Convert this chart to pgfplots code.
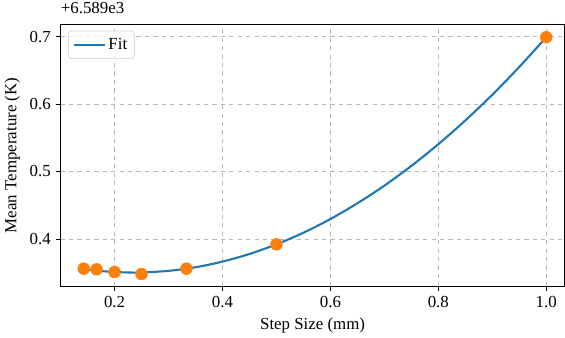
\documentclass[border=0pt]{standalone}
\usepackage{pgfplots}
\pgfplotsset{compat=1.18}
\usepackage{fontspec}
\setmainfont{Liberation Serif}
\definecolor{tabblue}{HTML}{1F77B4}
\definecolor{taborange}{HTML}{FF7F0E}
\begin{document}
\begin{tikzpicture}
\begin{axis}[
  scale only axis,
  width=358.6pt, height=186.5pt,
  xmin=0.1, xmax=1.034, ymin=0.3295, ymax=0.718,
  xtick={0.2,0.4,0.6,0.8,1.0},
  ytick={0.4,0.5,0.6,0.7},
  xticklabels={0.2,0.4,0.6,0.8,1.0},
  yticklabels={0.4,0.5,0.6,0.7},
  tick align=outside,
  tick pos=left,
  major tick length=3.5pt,
  every tick/.style={black, line width=0.6pt},
  axis line style={line width=0.6pt},
  grid=major,
  major grid style={dashed, gray!55, line width=0.4pt},
  xlabel={Step Size (mm)},
  ylabel={Mean Temperature (K)},
  xlabel style={yshift=0pt},
  ylabel style={yshift=0pt},
  tick label style={font=\fontsize{12}{14}\selectfont},
  label style={font=\fontsize{12}{14}\selectfont},
  legend style={font=\fontsize{12}{14}\selectfont, draw=gray!40, rounded corners=2pt, fill=white, fill opacity=0.8, text opacity=1, inner sep=3pt, at={(0.015,0.975)}, anchor=north west},
  legend cell align=left,
  legend image code/.code={\draw[#1] (0pt,0pt) -- (22pt,0pt);},
  clip=false,
]
\addplot[tabblue, line width=1.5pt, smooth] coordinates {
(0.1429,0.3553) (0.15,0.3546) (0.175,0.3524) (0.2,0.3510) (0.225,0.3503) (0.25,0.3503)
(0.3,0.3527) (0.35,0.3580) (0.4,0.3664) (0.45,0.3777) (0.5,0.3920) (0.55,0.4092)
(0.6,0.4295) (0.65,0.4528) (0.7,0.4790) (0.75,0.5082) (0.8,0.5404) (0.85,0.5756)
(0.9,0.6137) (0.95,0.6549) (1.0,0.6990)
};
\addlegendentry{Fit}
\addplot[only marks, mark=*, mark size=4.2pt, taborange, mark options={fill=taborange, draw=taborange}] coordinates {
(0.1429,0.356) (0.1667,0.355) (0.2,0.351) (0.25,0.348) (0.3333,0.356) (0.5,0.392) (1.0,0.699)
};
\node[anchor=south west, inner sep=1.5pt, font=\fontsize{12}{14}\selectfont] at (rel axis cs:0,1) [yshift=6pt, xshift=-1.5pt] {+6.589e3};
\end{axis}
\end{tikzpicture}
\end{document}
